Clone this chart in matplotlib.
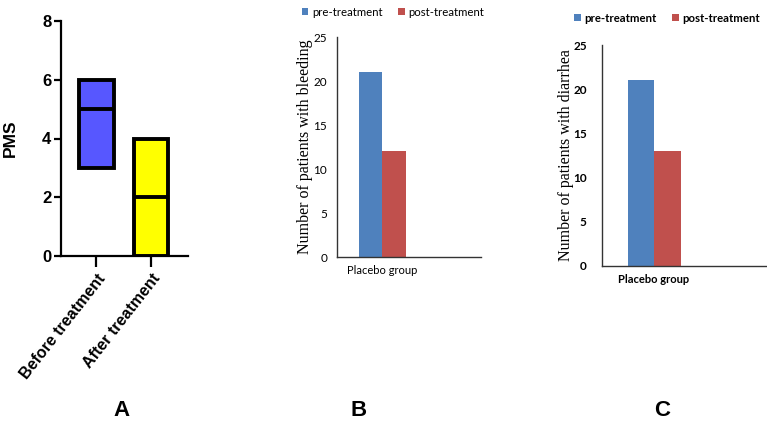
import matplotlib
matplotlib.use("Agg")
import matplotlib.pyplot as plt
import numpy as np

# Panel A data
a_categories = ["Before treatment", "After treatment"]
a_low = [3, 0]
a_high = [6, 4]
a_median = [5, 2]
a_colors = ["#5757FF", "#FFFF00"]
a_yticks = [0, 2, 4, 6, 8]

# Panel B / C data
group = ["Placebo group"]
series_names = ["pre-treatment", "post-treatment"]
b_values = [21, 12]
c_values = [21, 13]
bc_colors = ["#4F81BD", "#C0504D"]
bc_yticks = [0, 5, 10, 15, 20, 25]

W, H = 767, 429
fig = plt.figure(figsize=(W / 100, H / 100), dpi=100)


def px_axes(left, top, right, bottom):
    return fig.add_axes([left / W, 1 - bottom / H, (right - left) / W, (bottom - top) / H])


# ---------- Panel A ----------
axA = px_axes(61, 21, 188, 256)
xa = np.arange(len(a_categories))
heights = [h - l for h, l in zip(a_high, a_low)]
axA.bar(xa, heights, bottom=a_low, width=0.63, color=a_colors, edgecolor="black",
        linewidth=2.8, zorder=2)
axA.hlines(a_median, xa - 0.315, xa + 0.315, colors="black", linewidth=2.8, zorder=3)
axA.set_xlim(-0.64, 1.67)
axA.set_ylim(0, 8)
axA.set_yticks(a_yticks)
axA.set_xticks(xa)
axA.set_xticklabels(a_categories, rotation=52, ha="right", rotation_mode="anchor",
                    fontsize=11.5, fontweight="bold", family=["Liberation Sans", "DejaVu Sans"])
for lab in axA.get_yticklabels():
    lab.set_fontweight("bold")
    lab.set_fontsize(12)
    lab.set_family(["Liberation Sans Narrow", "Liberation Sans", "DejaVu Sans"])
axA.tick_params(axis="y", length=5, width=1.6, pad=2)
axA.tick_params(axis="x", length=8, width=1.6, pad=3)
for s in ["top", "right"]:
    axA.spines[s].set_visible(False)
for s in ["left", "bottom"]:
    axA.spines[s].set_linewidth(1.6)
axA.set_ylabel("PMS", fontsize=12.5, fontweight="bold", family=["Liberation Sans", "DejaVu Sans"])
axA.yaxis.set_label_coords(-0.34, 0.5)


def bar_panel(box, values, ylabel, legend_center, bold, ypad, lx):
    ax = px_axes(*box)
    x = np.arange(len(group))
    w = 0.3
    handles = []
    for i, (name, col) in enumerate(zip(series_names, bc_colors)):
        h = ax.bar(x + (i - 0.5) * w, [values[i]], width=w, color=col, label=name, zorder=2)
        handles.append(h)
    ax.set_xlim(-0.59, 1.28)
    ax.set_ylim(0, 25)
    ax.set_yticks(bc_yticks)
    ax.set_xticks(x)
    fw = "bold" if bold else "normal"
    ax.set_xticklabels(group, fontsize=8, fontweight=fw, family=["Lato", "DejaVu Sans"])
    for lab in ax.get_yticklabels():
        lab.set_fontsize(8.5)
        lab.set_fontweight(fw)
        lab.set_family(["Lato", "DejaVu Sans"])
    ax.tick_params(length=0, pad=6)
    ax.tick_params(axis="y", pad=ypad)
    for s in ["top", "right"]:
        ax.spines[s].set_visible(False)
    for s in ["left", "bottom"]:
        ax.spines[s].set_linewidth(1.0)
        ax.spines[s].set_color("#333333")
    ax.set_ylabel(ylabel, fontsize=11.5, family=["Liberation Serif", "DejaVu Serif"])
    ax.yaxis.set_label_coords(lx, 0.5)
    ax.legend(handles=handles, loc="center", ncol=2, frameon=False,
              bbox_to_anchor=(legend_center[0] / W, 1 - legend_center[1] / H),
              bbox_transform=fig.transFigure, handlelength=0.6, handleheight=0.6,
              handletextpad=0.3, columnspacing=1.4,
              prop={"size": 8.2, "weight": fw, "family": ["Lato", "DejaVu Sans"]})
    return ax


axB = bar_panel((337, 37, 481, 257), b_values, "Number of patients with bleeding", (393, 12), False, 7, -0.17)
axC = bar_panel((602, 45, 767, 266), c_values, "Number of patients with diarrhea", (667, 18), True, 11, -0.17)

for lbl, xp in zip(["A", "B", "C"], [122, 359, 662]):
    fig.text(xp / W, 1 - 410 / H, lbl, fontsize=16, fontweight="bold", ha="center", va="center",
             family=["Liberation Sans", "DejaVu Sans"])

fig.savefig("out.png", dpi=100)
